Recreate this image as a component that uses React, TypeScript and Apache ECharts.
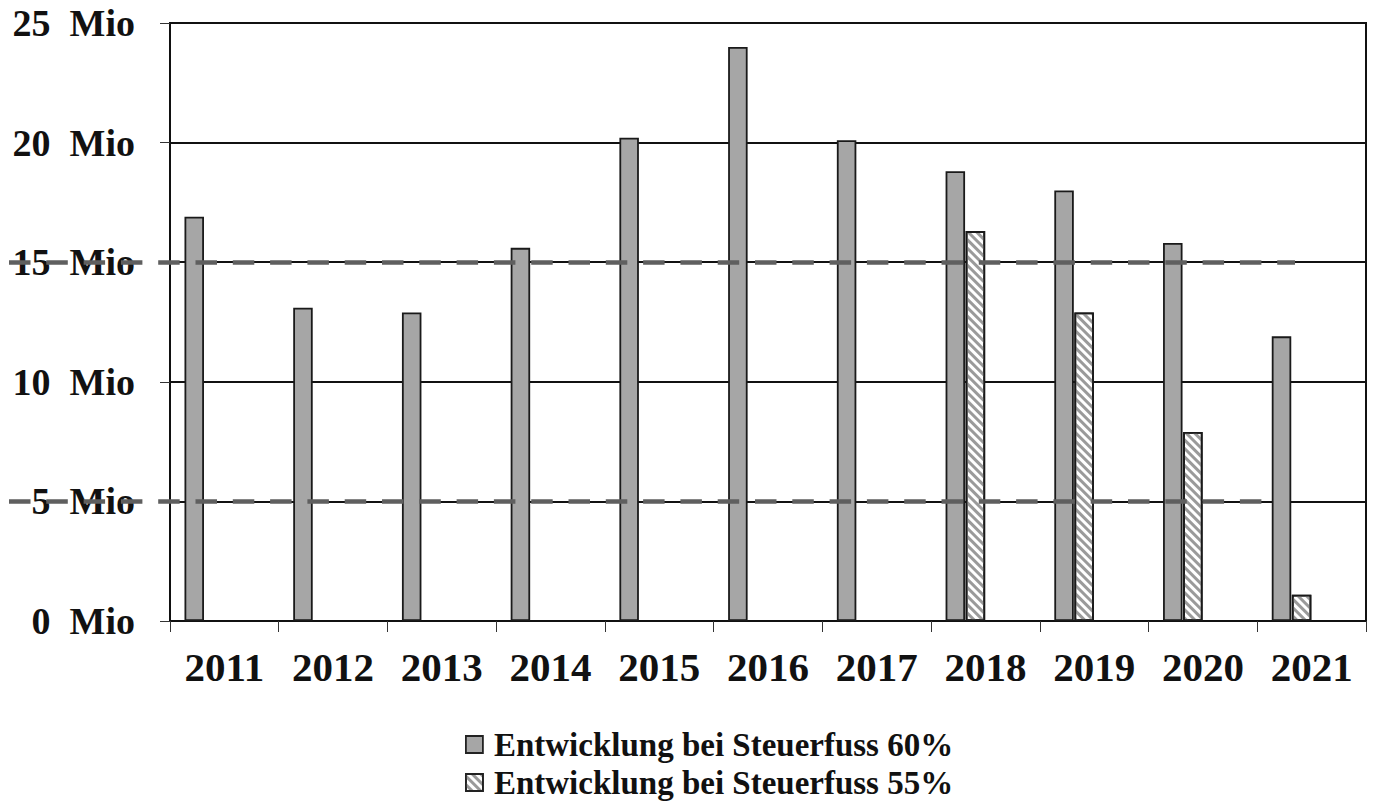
import React, { useEffect, useRef } from "react";
import * as echarts from "echarts";

const years = ["2011", "2012", "2013", "2014", "2015", "2016", "2017", "2018", "2019", "2020", "2021"];
const steuerfuss60 = [16.9, 13.1, 12.9, 15.6, 20.2, 24.0, 20.1, 18.8, 18.0, 15.8, 11.9];
const steuerfuss55 = [null, null, null, null, null, null, null, 16.3, 12.9, 7.9, 1.1];
const emptySlots = [null, null, null, null, null, null, null, null, null, null, null];
const yTicks = { min: 0, max: 25, interval: 5 };
const refLines = [15, 5];
const name60 = "Entwicklung bei Steuerfuss 60%";
const name55 = "Entwicklung bei Steuerfuss 55%";

const FONT = "'Liberation Serif', 'Times New Roman', serif";

export default function App() {
  const ref = useRef<HTMLDivElement>(null);
  useEffect(() => {
    if (!ref.current) return;
    const chart = echarts.init(ref.current, null, { renderer: "svg" });
    const barW = 19.5;
    const hatch = {
      symbol: "rect",
      symbolSize: 1,
      color: "#9a9a9a",
      dashArrayX: [1, 0],
      dashArrayY: [2.6, 2.6],
      rotation: Math.PI / 4,
    };
    chart.setOption({
      animation: false,
      backgroundColor: "#ffffff",
      grid: {
        left: 170,
        right: 10,
        top: 23,
        bottom: 188,
        show: true,
        borderColor: "#111",
        borderWidth: 2,
      },
      legend: {
        orient: "vertical",
        left: 460,
        top: 723,
        itemWidth: 17,
        itemHeight: 17,
        itemGap: 5,
        icon: "rect",
        textStyle: {
          fontFamily: FONT,
          fontWeight: "bold",
          fontSize: 33,
          color: "#111",
          padding: [0, 0, 0, 6],
        },
        data: [
          { name: name60, itemStyle: { color: "#a6a6a6", borderColor: "#222", borderWidth: 1.8 } },
          { name: name55, itemStyle: { color: "#ffffff", borderColor: "#222", borderWidth: 1.8, decal: hatch } },
        ],
      },
      xAxis: {
        type: "category",
        data: years,
        axisLine: { lineStyle: { color: "#111", width: 2 } },
        axisTick: { show: true, length: 11, lineStyle: { color: "#333", width: 1 } },
        axisLabel: {
          margin: 25,
          fontFamily: FONT,
          fontWeight: "bold",
          fontSize: 41,
          color: "#111",
        },
        splitLine: { show: false },
      },
      yAxis: {
        type: "value",
        min: yTicks.min,
        max: yTicks.max,
        interval: yTicks.interval,
        axisLine: { show: true, lineStyle: { color: "#111", width: 2 } },
        axisTick: { show: true, length: 10, lineStyle: { color: "#333", width: 1 } },
        axisLabel: {
          margin: 35,
          fontFamily: FONT,
          fontWeight: "bold",
          fontSize: 38,
          color: "#111",
          formatter: (v: number) => `${v}\u00a0\u00a0Mio`,
        },
        splitLine: { show: true, lineStyle: { color: "#111", width: 2 } },
      },
      series: [
        {
          name: name60,
          type: "bar",
          data: steuerfuss60,
          barWidth: barW,
          barGap: "3%",
          itemStyle: { color: "#a6a6a6", borderColor: "#1a1a1a", borderWidth: 1.8 },
          markLine: {
            silent: true,
            symbol: ["none", "none"],
            label: { show: false },
            lineStyle: { color: "#5f5f5f", width: 4.5, type: [21.5, 15.8] },
            z: 10,
            data: [
              [{ x: 9, yAxis: refLines[0] }, { x: 1295, yAxis: refLines[0] }],
              [{ x: 9, yAxis: refLines[1] }, { x: 1264, yAxis: refLines[1] }],
            ],
          },
        },
        {
          name: name55,
          type: "bar",
          data: steuerfuss55,
          barWidth: barW,
          barGap: "3%",
          itemStyle: { color: "#ffffff", borderColor: "#1a1a1a", borderWidth: 1.8, decal: hatch },
        },
        { name: "slot3", type: "bar", data: emptySlots, barWidth: barW, barGap: "3%" },
        { name: "slot4", type: "bar", data: emptySlots, barWidth: barW, barGap: "3%" },
      ],
    });
    return () => chart.dispose();
  }, []);
  return (
    <div
      ref={ref}
      style={{ position: "absolute", left: 0, top: 0, width: 1376, height: 809 }}
    />
  );
}
